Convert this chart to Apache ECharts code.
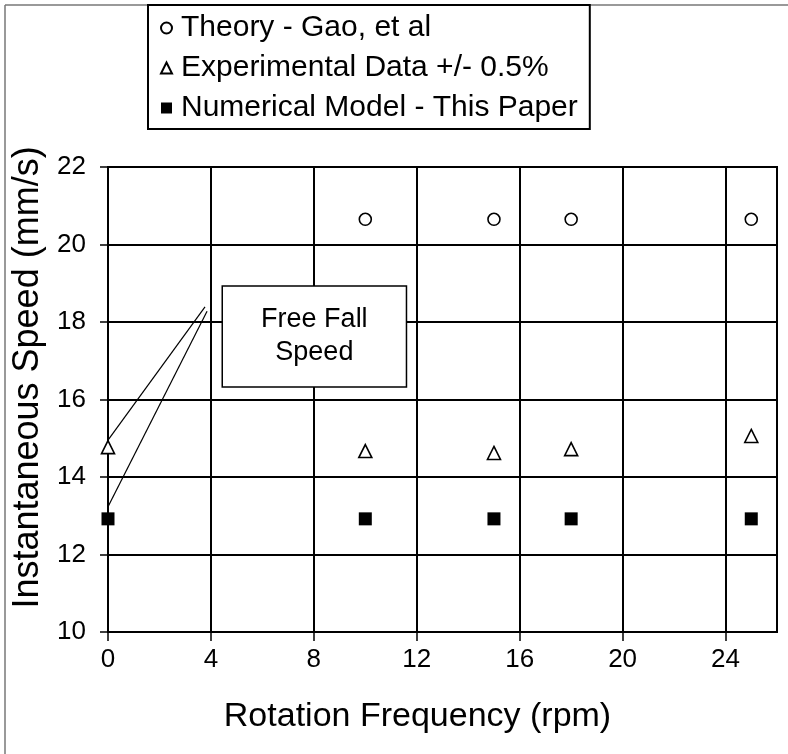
<!DOCTYPE html>
<html>
<head>
<meta charset="utf-8">
<title>Instantaneous Speed</title>
<script src="https://cdn.jsdelivr.net/npm/echarts@6/dist/echarts.min.js"></script>
<style>
  html, body { margin: 0; padding: 0; background: #fff; }
  #chart { width: 788px; height: 754px; }
</style>
</head>
<body>
<div id="chart"></div>
<script>
// data
var theoryFreq = [10, 15, 18, 25];
var theorySpeed = [20.65, 20.65, 20.65, 20.65];
var expFreq = [0, 10, 15, 18, 25];
var expSpeed = [14.77, 14.67, 14.62, 14.72, 15.06];
var numFreq = [0, 10, 15, 18, 25];
var numSpeed = [12.92, 12.92, 12.92, 12.92, 12.92];
var seriesNames = ['Theory - Gao, et al', 'Experimental Data +/- 0.5%', 'Numerical Model - This Paper'];
// annotation "Free Fall Speed" (data coords)
var noteBox = [[4.44, 18.93], [11.6, 16.32]];
var noteLines = [
  [[3.77, 18.39], [0, 14.95]],
  [[3.85, 18.28], [0, 13.23]]
];

function pairs(xs, ys) {
  return xs.map(function (x, i) { return [x, ys[i]]; });
}

var chart = echarts.init(document.getElementById('chart'));
var font = 'Liberation Sans, Arial, sans-serif';

chart.setOption({
  backgroundColor: '#fff',
  animation: false,
  textStyle: { fontFamily: font, color: '#000' },
  graphic: [
    { type: 'line', shape: { x1: 5, y1: 5, x2: 788, y2: 5 }, style: { stroke: '#777', lineWidth: 1.5 } },
    { type: 'line', shape: { x1: 5, y1: 5, x2: 5, y2: 754 }, style: { stroke: '#777', lineWidth: 1.5 } }
  ],
  legend: {
    orient: 'vertical',
    left: 148,
    top: 5,
    padding: [8, 12, 6, 12],
    itemGap: 10,
    itemWidth: 11,
    itemHeight: 11,
    borderColor: '#000',
    borderWidth: 2,
    backgroundColor: '#fff',
    data: seriesNames,
    textStyle: { fontSize: 30, lineHeight: 30, color: '#000', fontFamily: font, padding: [0, 0, 0, 4] }
  },
  grid: {
    left: 108, top: 167, right: 11, bottom: 122,
    show: true, borderColor: '#000', borderWidth: 2
  },
  xAxis: {
    type: 'value',
    min: 0, max: 26, interval: 4,
    name: 'Rotation Frequency (rpm)',
    nameLocation: 'middle',
    nameGap: 68,
    nameTextStyle: { fontSize: 34, color: '#000', fontFamily: font, padding: [0, 50, 0, 0] },
    axisLine: { lineStyle: { color: '#000', width: 2 } },
    axisTick: { show: true, inside: false, length: 9, lineStyle: { color: '#000', width: 1.5 } },
    axisLabel: { fontSize: 26, color: '#000', margin: 15, showMaxLabel: false, fontFamily: font },
    splitLine: { show: true, lineStyle: { color: '#000', width: 2 } }
  },
  yAxis: {
    type: 'value',
    min: 10, max: 22, interval: 2,
    name: 'Instantaneous Speed (mm/s)',
    nameLocation: 'middle',
    nameGap: 57,
    nameTextStyle: { fontSize: 36, color: '#000', fontFamily: font, padding: [0, 0, 0, 44] },
    axisLine: { show: true, lineStyle: { color: '#000', width: 2 } },
    axisTick: { show: true, inside: false, length: 8, lineStyle: { color: '#000', width: 1.5 } },
    axisLabel: { fontSize: 26, color: '#000', margin: 22, fontFamily: font },
    splitLine: { show: true, lineStyle: { color: '#000', width: 2 } }
  },
  series: [
    {
      name: seriesNames[0],
      type: 'scatter',
      symbol: 'circle',
      symbolSize: 12,
      z: 5,
      itemStyle: { color: '#fff', borderColor: '#000', borderWidth: 1.6, opacity: 1 },
      data: pairs(theoryFreq, theorySpeed)
    },
    {
      name: seriesNames[1],
      type: 'scatter',
      symbol: 'triangle',
      symbolSize: 13,
      z: 5,
      clip: false,
      itemStyle: { color: '#fff', borderColor: '#000', borderWidth: 1.6, opacity: 1 },
      data: pairs(expFreq, expSpeed),
      markArea: {
        silent: true,
        itemStyle: { color: '#fff', borderColor: '#000', borderWidth: 1.5, opacity: 1 },
        label: {
          show: true, position: 'inside',
          formatter: 'Free Fall\nSpeed',
          fontSize: 27, lineHeight: 33, color: '#000', fontFamily: font
        },
        data: [[{ coord: noteBox[0] }, { coord: noteBox[1] }]]
      },
      markLine: {
        silent: true,
        symbol: ['none', 'none'],
        label: { show: false },
        lineStyle: { color: '#000', width: 1.2, type: 'solid' },
        data: noteLines.map(function (l) {
          return [{ coord: l[0] }, { coord: l[1] }];
        })
      }
    },
    {
      name: seriesNames[2],
      type: 'scatter',
      symbol: 'rect',
      symbolSize: 13,
      z: 5,
      clip: false,
      itemStyle: { color: '#000', opacity: 1 },
      data: pairs(numFreq, numSpeed)
    }
  ]
});
</script>
</body>
</html>
